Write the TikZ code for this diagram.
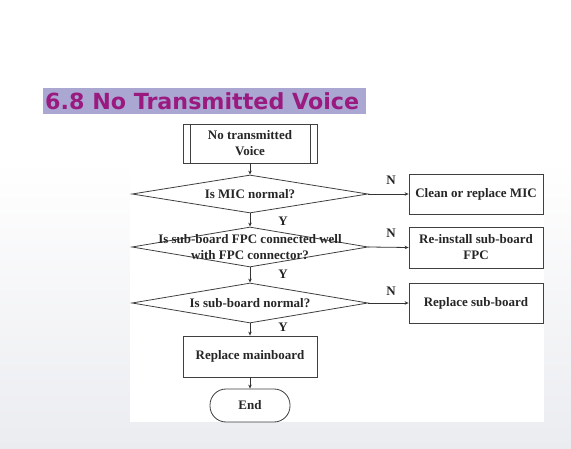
\documentclass[tikz,border=0pt]{standalone}
\usepackage{fontspec}
\setmainfont{Liberation Serif}
\newfontfamily\titlefont{DejaVu Sans}
\usetikzlibrary{shapes.geometric,arrows.meta}
\definecolor{titlebg}{HTML}{AAA7D3}
\definecolor{titlefg}{HTML}{9A1A80}
\definecolor{bggrey}{HTML}{EBECF0}
\begin{document}
\begin{tikzpicture}[x=1pt,y=-1pt,
  txt/.style={font=\fontsize{13}{16}\selectfont\bfseries, align=center, text=black!85},
  boxnode/.style={draw=black!75, line width=0.8pt, rectangle, minimum width=134pt, inner sep=0pt, txt},
  decide/.style={draw=black!75, line width=0.8pt, diamond, minimum width=236pt, inner sep=0pt},
  conn/.style={draw=black!80, line width=0.8pt, -{Stealth[length=4pt,width=3.5pt]}},
  yn/.style={font=\fontsize{13}{13}\selectfont\bfseries, text=black!85, inner sep=0pt}]
\useasboundingbox (0,0) rectangle (571,449);
\fill[white] (0,0) rectangle (571,449);
\shade[top color=white, bottom color=bggrey] (0,160) rectangle (571,449);
\fill[white] (130,118) rectangle (544,422);
% title
\fill[titlebg] (43,88) rectangle (366,114);
\node[anchor=base west, inner sep=0pt, text=titlefg, font=\titlefont\fontsize{22.2}{24}\selectfont\bfseries] (title) at (45,110) {6.8 No Transmitted Voice};
% start box
\node[boxnode, minimum height=39pt] (start) at (250,143.5) {No transmitted\\Voice};
\draw[black!75, line width=0.8pt] ([xshift=8pt]start.north west) -- ([xshift=8pt]start.south west)
  ([xshift=-7pt]start.north east) -- ([xshift=-7pt]start.south east);
% decisions
\node[decide, minimum height=38pt] (d1) at (250,194) {};
\node[txt] (t1) at (d1.center) {Is MIC normal?};
\node[decide, minimum height=40pt] (d2) at (250,247) {};
\node[txt] (t2) at (d2.center) {Is sub-board FPC connected well\\with FPC connector?};
\node[decide, minimum height=40pt] (d3) at (250,303) {};
\node[txt] (t3) at (d3.center) {Is sub-board normal?};
% right boxes
\node[boxnode, minimum height=40pt] (b1) at (476,194) {Clean or replace MIC};
\node[boxnode, minimum height=41pt] (b2) at (476,247.5) {Re-install sub-board\\FPC};
\node[boxnode, minimum height=40pt] (b3) at (476,303) {Replace sub-board};
% main board and end
\node[boxnode, minimum height=41pt] (mb) at (250,356.5) {Replace mainboard};
\node[draw=black!75, line width=0.8pt, rectangle, rounded corners=16pt, minimum width=80pt, minimum height=33pt, inner sep=0pt, txt] (end) at (250,405.5) {End};
% connectors
\draw[conn] (start.south) -- (d1.north);
\draw[conn] (d1.south) -- (d2.north);
\draw[conn] (d2.south) -- (d3.north);
\draw[conn] (d3.south) -- (mb.north);
\draw[conn] (mb.south) -- (end.north);
\draw[conn] (d1.east) -- (b1.west);
\draw[conn] (d2.east) -- (b2.west);
\draw[conn] (d3.east) -- (b3.west);
% labels
\node[yn] (n1) at (391,180) {N};
\node[yn] (n2) at (391,233) {N};
\node[yn] (n3) at (391,291) {N};
\node[yn] (y1) at (283,221) {Y};
\node[yn] (y2) at (283,274) {Y};
\node[yn] (y3) at (283,327) {Y};
\end{tikzpicture}
\end{document}
